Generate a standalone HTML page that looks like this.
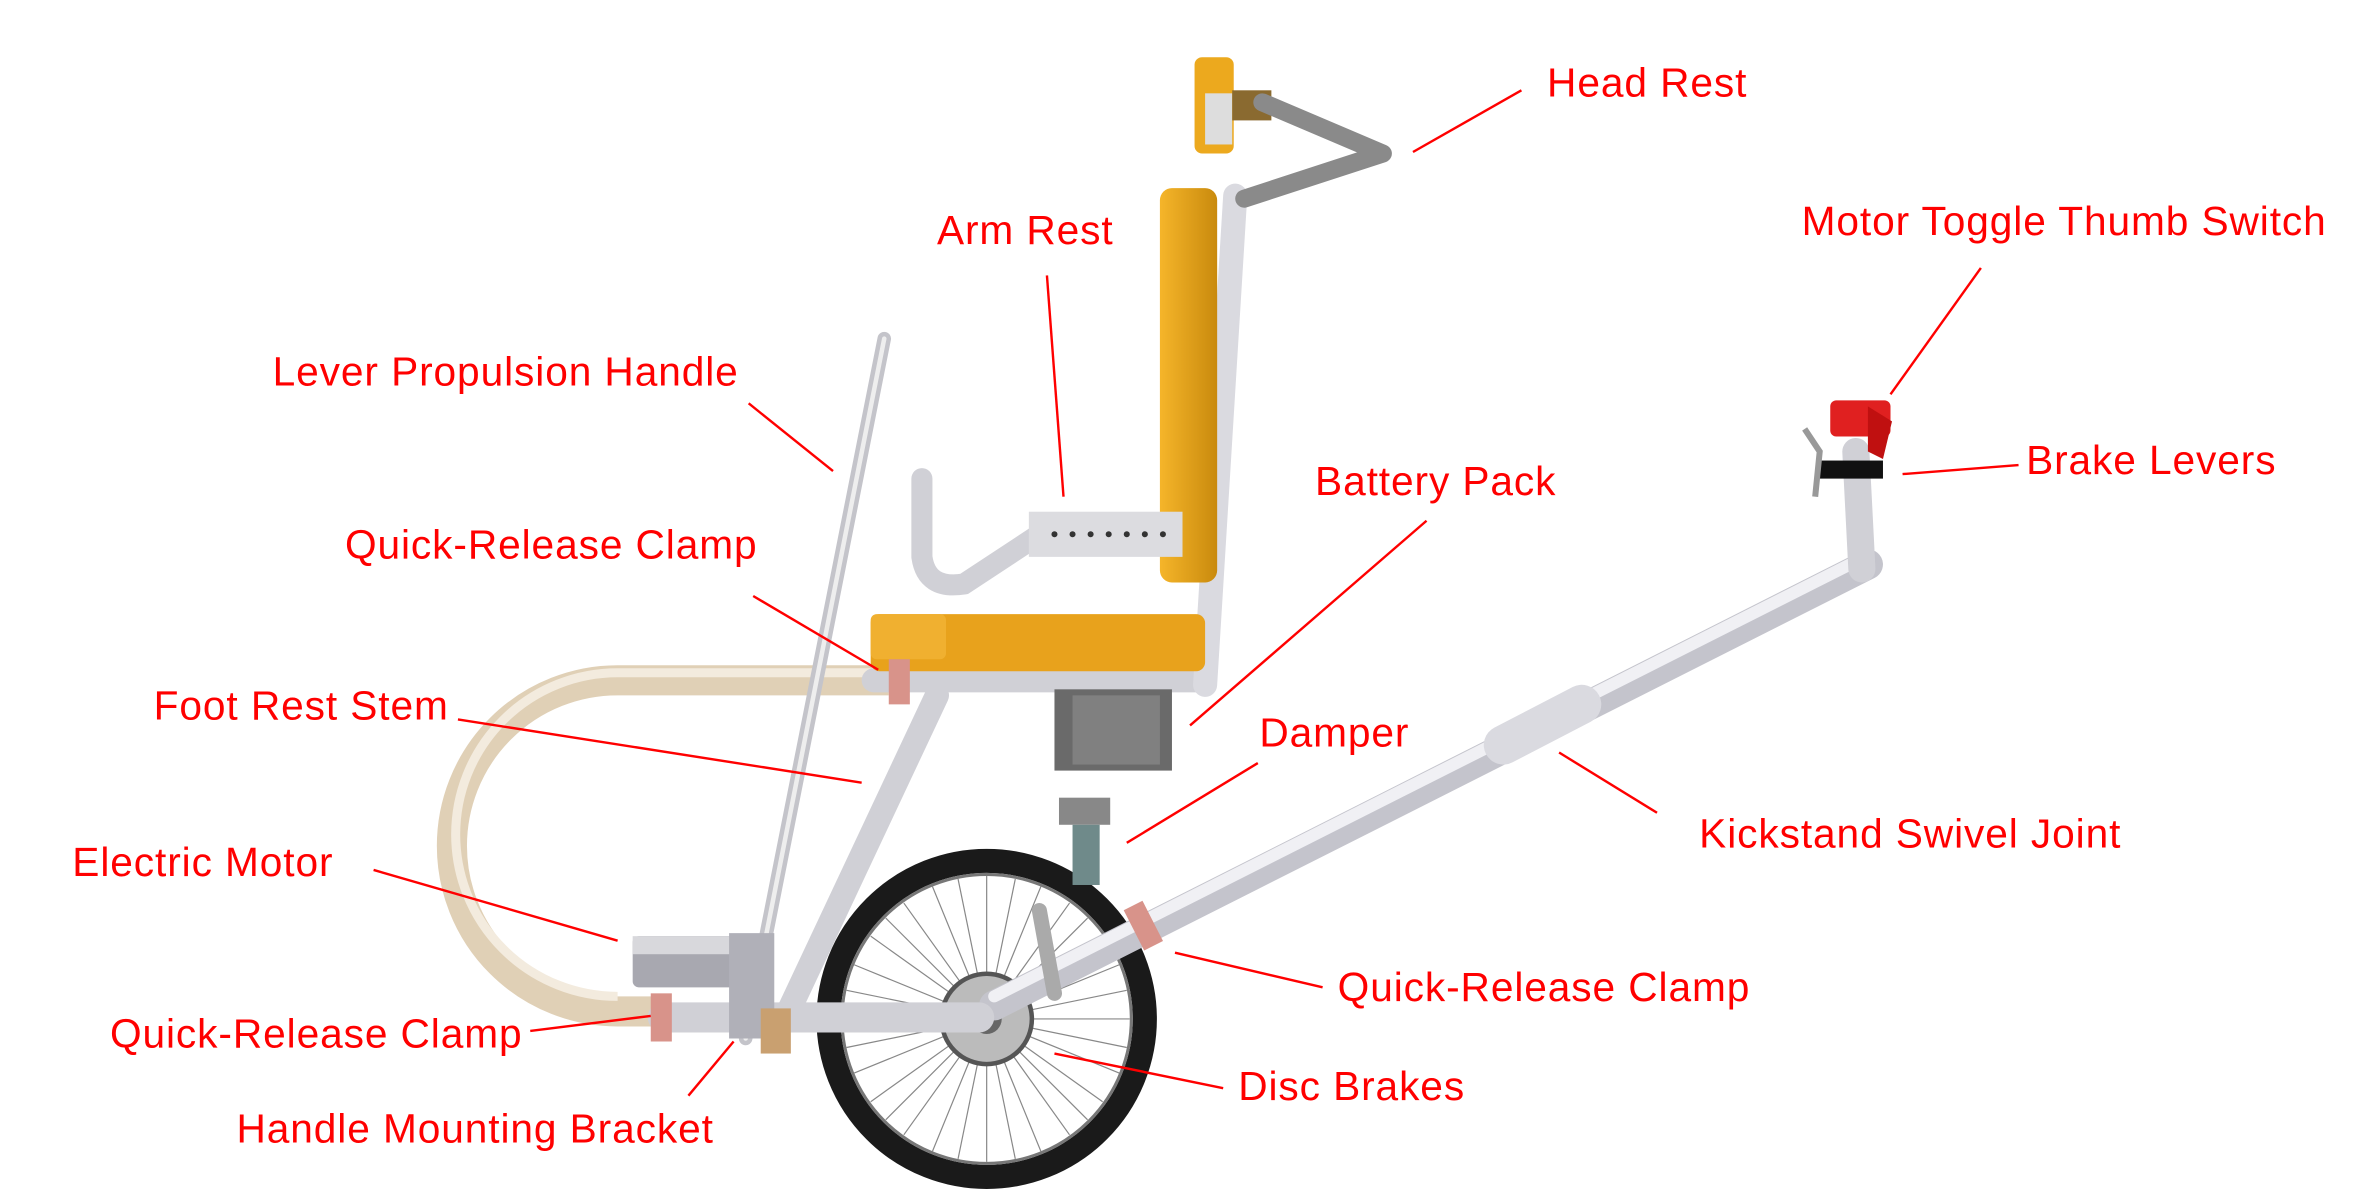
<!DOCTYPE html>
<html><head><meta charset="utf-8"><style>
html,body{margin:0;padding:0;background:#fff;width:2362px;height:1189px;overflow:hidden}
svg{display:block}
text{font-family:"Liberation Sans",sans-serif;font-size:27px;letter-spacing:0.6px;fill:#f00}
</style></head><body>
<svg width="2362" height="1189" viewBox="0 0 1568 790" preserveAspectRatio="none">
<defs>
<linearGradient id="org" x1="0" y1="0" x2="1" y2="0"><stop offset="0" stop-color="#f5b52a"/><stop offset="1" stop-color="#c98a0d"/></linearGradient>
</defs>
<!-- foot rest U tube -->
<path d="M590 452 L410 452 A110 110 0 0 0 410 672 L445 672" fill="none" stroke="#e0d0b6" stroke-width="20"/>
<path d="M590 447 L410 447 A105 105 0 0 0 410 662" fill="none" stroke="#f3ebde" stroke-width="6"/>
<!-- wheel -->
<circle cx="655" cy="677" r="105" fill="none" stroke="#1a1a1a" stroke-width="16"/>
<circle cx="655" cy="677" r="96" fill="none" stroke="#777" stroke-width="2"/>
<g stroke="#888" stroke-width="0.8">
<line x1="655" y1="582" x2="655" y2="772"/><line x1="560" y1="677" x2="750" y2="677"/>
<line x1="588" y1="610" x2="722" y2="744"/><line x1="722" y1="610" x2="588" y2="744"/>
<line x1="619" y1="589" x2="691" y2="765"/><line x1="691" y1="589" x2="619" y2="765"/>
<line x1="567" y1="641" x2="743" y2="713"/><line x1="743" y1="641" x2="567" y2="713"/>
<line x1="636" y1="584" x2="674" y2="770"/><line x1="674" y1="584" x2="636" y2="770"/>
<line x1="562" y1="658" x2="748" y2="696"/><line x1="748" y1="658" x2="562" y2="696"/>
<line x1="600" y1="600" x2="710" y2="754"/><line x1="710" y1="600" x2="600" y2="754"/>
<line x1="578" y1="622" x2="732" y2="732"/><line x1="732" y1="622" x2="578" y2="732"/>
</g>
<circle cx="655" cy="677" r="30" fill="#bbb" stroke="#555" stroke-width="3"/>
<circle cx="655" cy="677" r="10" fill="#666"/>
<!-- frame tubes -->
<g stroke-linecap="round" fill="none">
<line x1="660" y1="668" x2="1240" y2="375" stroke="#c4c4cc" stroke-width="20"/>
<line x1="660" y1="662" x2="1240" y2="369" stroke="#f0f0f4" stroke-width="8"/>
<line x1="1236" y1="378" x2="1232" y2="300" stroke="#d0d0d6" stroke-width="18"/>
<line x1="998" y1="495" x2="1050" y2="468" stroke="#dadae0" stroke-width="26"/>
<line x1="440" y1="676" x2="650" y2="676" stroke="#d0d0d6" stroke-width="20"/>
<line x1="622" y1="462" x2="522" y2="675" stroke="#d0d0d6" stroke-width="16"/>
<line x1="580" y1="452" x2="800" y2="452" stroke="#d0d0d6" stroke-width="16"/>
<line x1="820" y1="130" x2="800" y2="455" stroke="#dadae0" stroke-width="16"/>
<line x1="690" y1="605" x2="700" y2="660" stroke="#aaa" stroke-width="10"/>
<line x1="587" y1="225" x2="495" y2="690" stroke="#c4c4ca" stroke-width="9"/>
<line x1="587" y1="225" x2="495" y2="690" stroke="#eee" stroke-width="3"/>
<path d="M612 318 L612 370 Q615 392 640 388 L690 355" stroke="#d0d0d6" stroke-width="14"/>
</g>
<!-- seat -->
<rect x="770" y="125" width="38" height="262" rx="8" fill="url(#org)"/>
<rect x="578" y="408" width="222" height="38" rx="6" fill="#e8a21c"/>
<rect x="578" y="408" width="50" height="30" rx="4" fill="#f0b030"/>
<rect x="683" y="340" width="102" height="30" fill="#dcdce0"/>
<g fill="#333"><circle cx="700" cy="355" r="2"/><circle cx="712" cy="355" r="2"/><circle cx="724" cy="355" r="2"/><circle cx="736" cy="355" r="2"/><circle cx="748" cy="355" r="2"/><circle cx="760" cy="355" r="2"/><circle cx="772" cy="355" r="2"/></g>
<!-- head rest -->
<rect x="793" y="38" width="26" height="64" rx="5" fill="#eca91e"/>
<rect x="800" y="62" width="18" height="34" fill="#ddd"/>
<rect x="818" y="60" width="26" height="20" fill="#8a6a30"/>
<path d="M838 68 L918 102 L826 132" fill="none" stroke="#8a8a8a" stroke-width="12" stroke-linejoin="round" stroke-linecap="round"/>
<!-- battery, damper -->
<rect x="700" y="458" width="78" height="54" fill="#6a6a6a"/>
<rect x="712" y="462" width="58" height="46" fill="#808080"/>
<rect x="703" y="530" width="34" height="18" fill="#888"/>
<rect x="712" y="548" width="18" height="40" fill="#6f8a8a"/>
<!-- motor -->
<rect x="420" y="622" width="70" height="34" rx="4" fill="#a8a8b0"/>
<rect x="420" y="622" width="70" height="12" fill="#d8d8dc"/>
<rect x="484" y="620" width="30" height="70" fill="#b0b0b8"/>
<!-- clamps -->
<rect x="432" y="660" width="14" height="32" fill="#d8938a"/>
<rect x="590" y="438" width="14" height="30" fill="#d8938a"/>
<rect x="752" y="600" width="14" height="30" fill="#d8938a" transform="rotate(-27 759 615)"/>
<rect x="505" y="670" width="20" height="30" fill="#c9a070"/>
<!-- brake / switch -->
<rect x="1215" y="266" width="40" height="24" rx="4" fill="#e02020"/>
<path d="M1240 270 L1256 280 L1250 305 L1240 300Z" fill="#c01010"/>
<rect x="1208" y="306" width="42" height="12" fill="#111"/>
<path d="M1198 285 L1208 300 L1205 330" stroke="#999" stroke-width="4" fill="none"/>
<!-- leader lines -->
<g stroke="#f00" stroke-width="1.6">
<line x1="1010" y1="60" x2="938" y2="101"/>
<line x1="695" y1="183" x2="706" y2="330"/>
<line x1="1315" y1="178" x2="1255" y2="262"/>
<line x1="497" y1="268" x2="553" y2="313"/>
<line x1="1340" y1="309" x2="1263" y2="315"/>
<line x1="947" y1="346" x2="790" y2="482"/>
<line x1="500" y1="396" x2="583" y2="445"/>
<line x1="304" y1="478" x2="572" y2="520"/>
<line x1="835" y1="507" x2="748" y2="560"/>
<line x1="1100" y1="540" x2="1035" y2="500"/>
<line x1="248" y1="578" x2="410" y2="625"/>
<line x1="878" y1="656" x2="780" y2="633"/>
<line x1="352" y1="685" x2="432" y2="675"/>
<line x1="812" y1="723" x2="700" y2="700"/>
<line x1="457" y1="728" x2="487" y2="692"/>
</g>
<text x="1027" y="64">Head Rest</text>
<text x="622" y="162">Arm Rest</text>
<text x="1196" y="156">Motor Toggle Thumb Switch</text>
<text x="181" y="256">Lever Propulsion Handle</text>
<text x="1345" y="315">Brake Levers</text>
<text x="873" y="329">Battery Pack</text>
<text x="229" y="371">Quick-Release Clamp</text>
<text x="102" y="478">Foot Rest Stem</text>
<text x="836" y="496">Damper</text>
<text x="1128" y="563">Kickstand Swivel Joint</text>
<text x="48" y="582">Electric Motor</text>
<text x="888" y="665">Quick-Release Clamp</text>
<text x="73" y="696">Quick-Release Clamp</text>
<text x="822" y="731">Disc Brakes</text>
<text x="157" y="759">Handle Mounting Bracket</text>
</svg>
</body></html>
